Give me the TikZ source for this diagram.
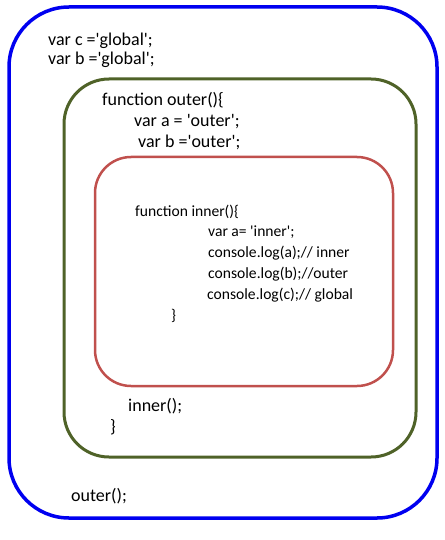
\documentclass[tikz,border=0pt]{standalone}
\usepackage{fontspec}
\setmainfont{Carlito}
\newcommand\sq{\textquotesingle}
\definecolor{scopeblue}{RGB}{0,0,240}
\definecolor{scopegreen}{RGB}{79,98,40}
\definecolor{scopered}{RGB}{192,80,77}
\begin{document}
\begin{tikzpicture}[x=1pt,y=-1pt,
  code/.style={anchor=base west,inner sep=0pt,font=\fontsize{18}{20}\selectfont},
  smallcode/.style={code,font=\fontsize{15.6}{18}\selectfont},
  globalbox/.style={draw=scopeblue,line width=3.5pt,rounded corners=60pt},
  outerbox/.style={draw=scopegreen,line width=3pt,rounded corners=45pt},
  innerbox/.style={draw=scopered,line width=2.5pt,rounded corners=36pt}]
\useasboundingbox (0,0) rectangle (444,540);
\draw[globalbox] (9,7) rectangle (437,518);
\draw[outerbox] (64,79) rectangle (416,457);
\draw[innerbox] (95,157) rectangle (393,386);
\node[code] (l1) at (48,46) {var c =\sq global\sq;};
\node[code] (l2) at (48,65) {var b =\sq global\sq;};
\node[code] (l3) at (102,106) {function outer()\{};
\node[code] (l4) at (134,127) {var a = \sq outer\sq;};
\node[code] (l5) at (138,148) {var b =\sq outer\sq;};
\node[smallcode] (l6) at (135,216) {function inner()\{};
\node[smallcode] (l7) at (208,236) {var a= \sq inner\sq;};
\node[smallcode] (l8) at (208,257) {console.log(a);// inner};
\node[smallcode] (l9) at (208,278) {console.log(b);//outer};
\node[smallcode] (l10) at (207,299) {console.log(c);// global};
\node[smallcode] (l11) at (171,320) {\}};
\node[code] (l12) at (128,411) {inner();};
\node[code] (l13) at (110,432) {\}};
\node[code] (l14) at (71,501) {outer();};
\end{tikzpicture}
\end{document}
